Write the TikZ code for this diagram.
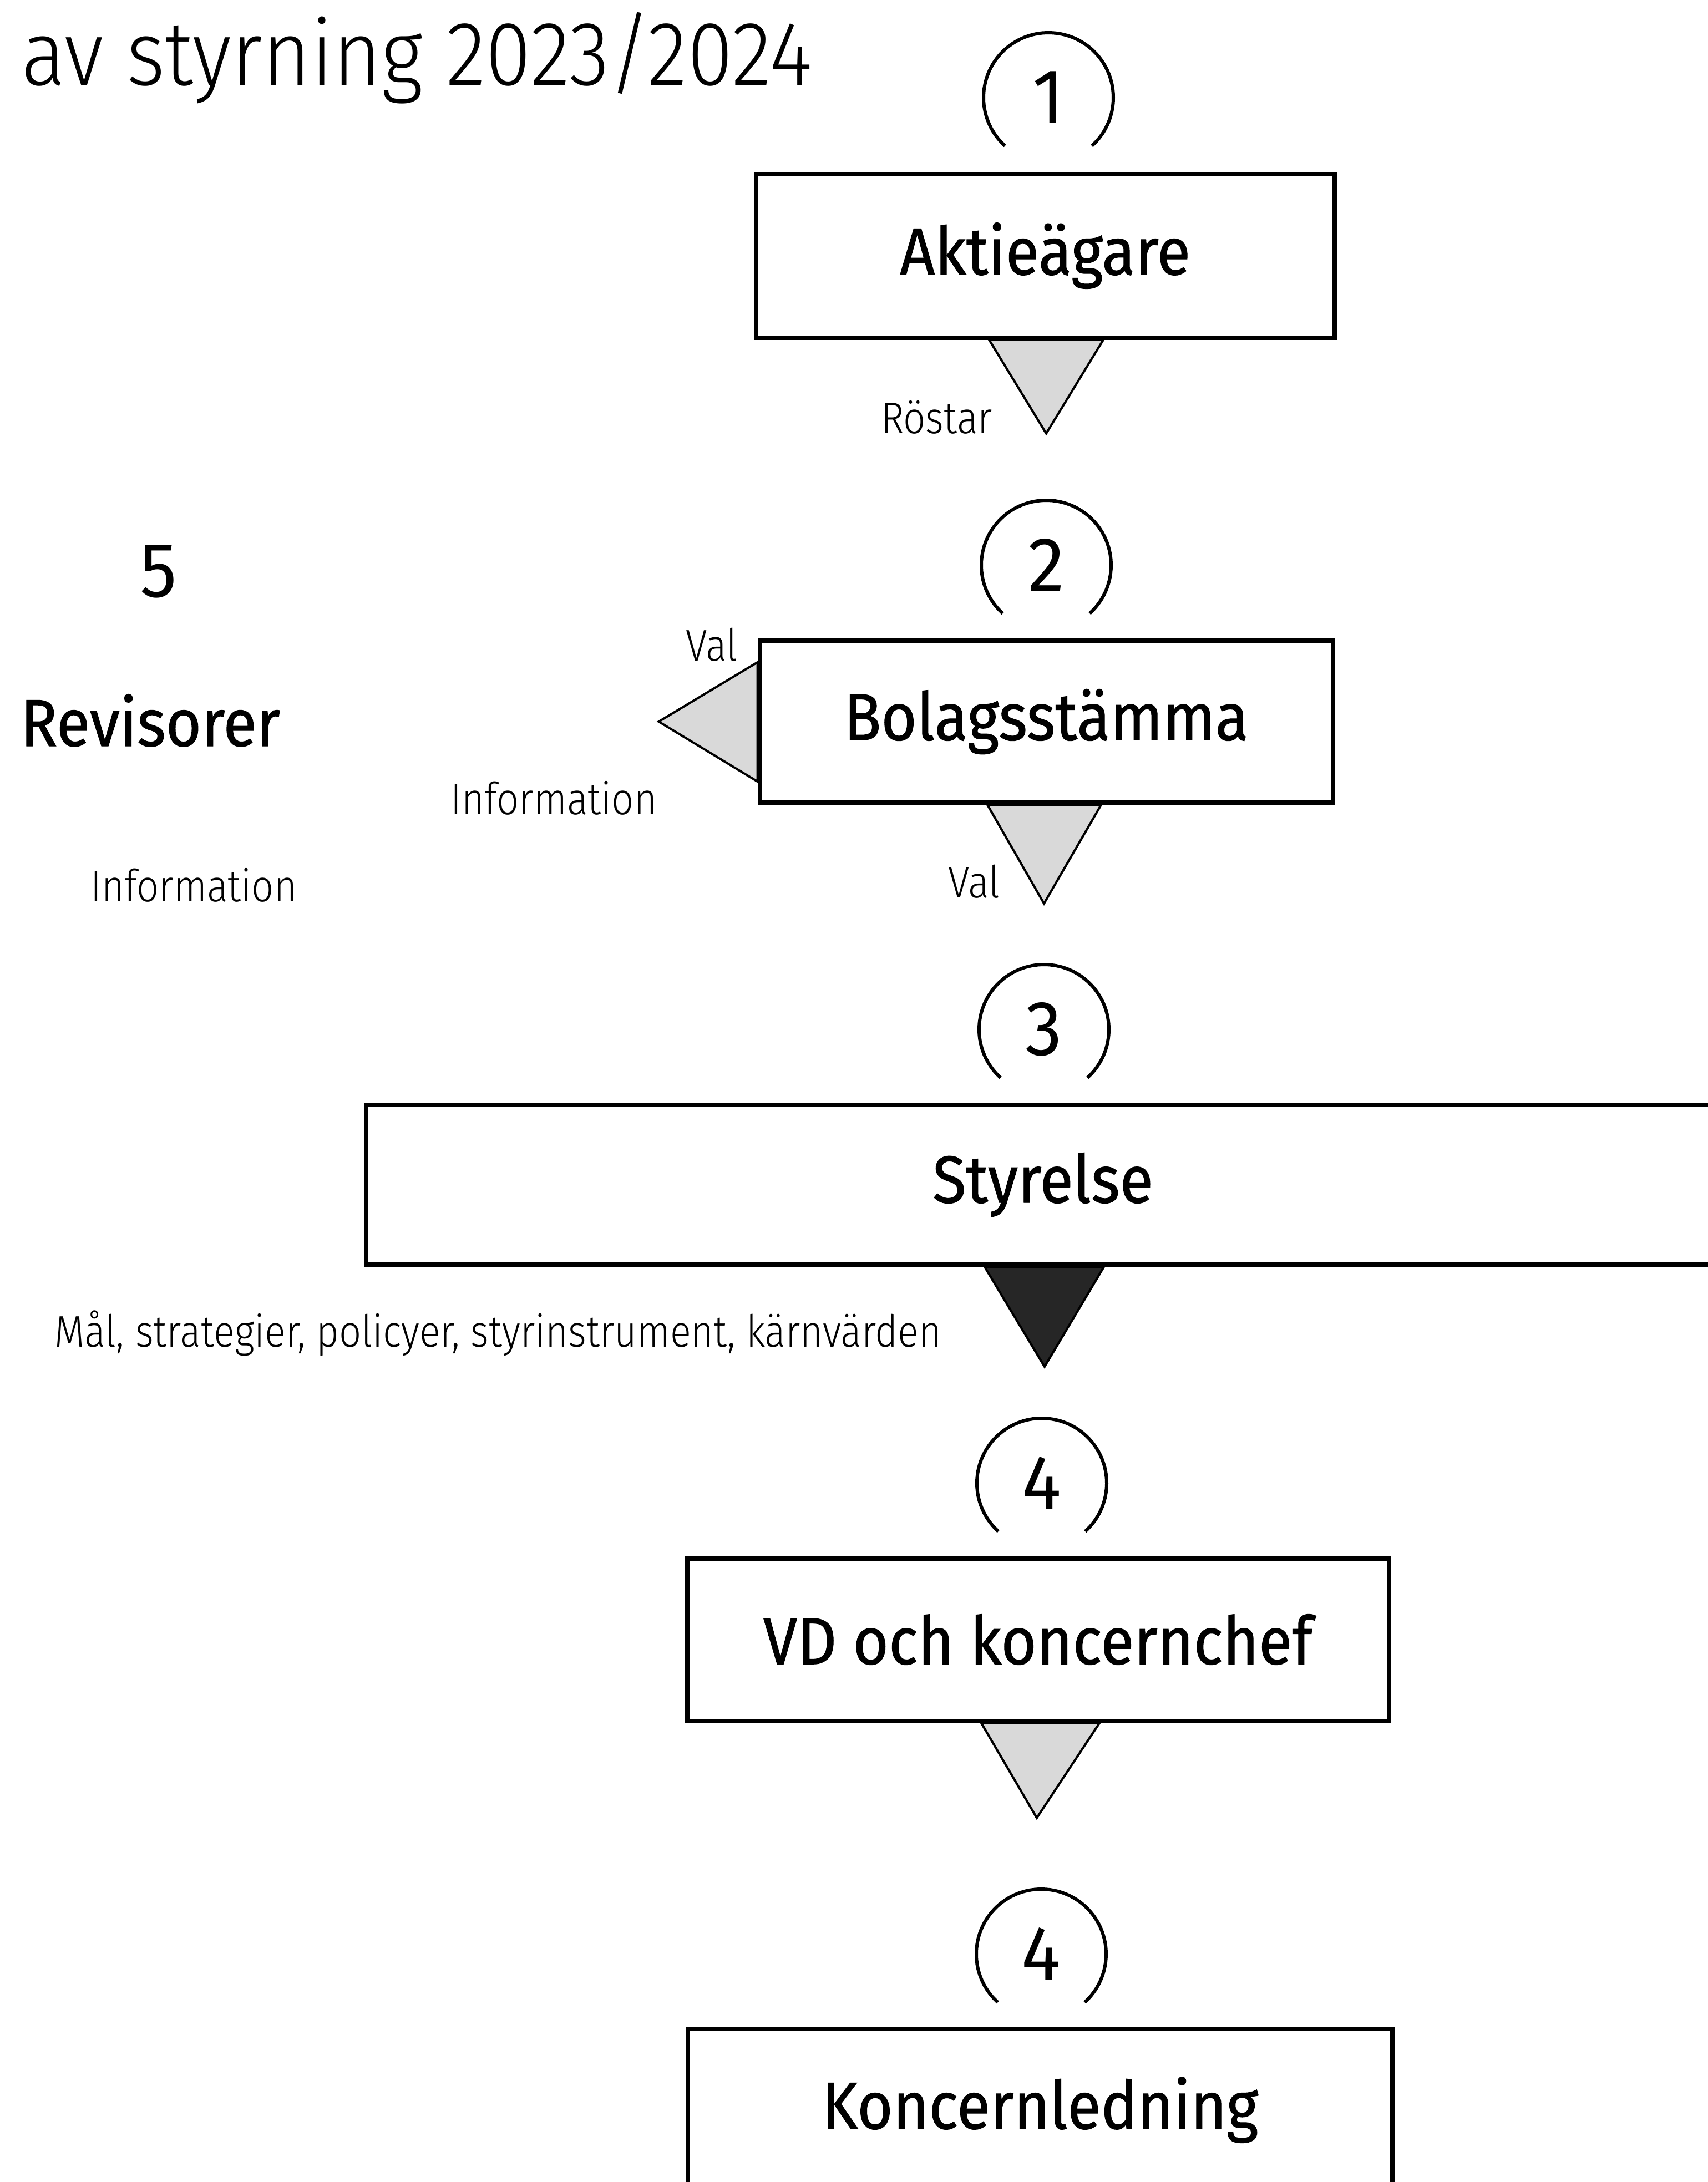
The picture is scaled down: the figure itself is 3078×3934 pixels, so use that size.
\documentclass[tikz,border=0pt]{standalone}
\usepackage{fontspec}
\setmainfont{Fira Sans}[FakeStretch=0.95]
\newfontfamily\lightfont{Fira Sans Light}[FakeStretch=0.88]
\newfontfamily\titlefont{Fira Sans Light}[FakeStretch=0.91]
\newfontfamily\medfont{Fira Sans}[FakeStretch=0.92,FakeBold=0.8]
\usetikzlibrary{calc}
\begin{document}
\begin{tikzpicture}[x=0.25pt,y=0.25pt,
  box/.style={draw,line width=2pt,rectangle,inner sep=0pt,font=\medfont\fontsize{30}{36}\selectfont},
  tri/.style={draw,line width=1pt,fill=gray!30,line join=miter},
  darktri/.style={draw,line width=1pt,fill=black!85,line join=miter},
  lbl/.style={inner sep=0pt,font=\lightfont\fontsize{20}{24}\selectfont},
  num/.style={inner sep=0pt,font=\fontsize{35}{40}\selectfont},
  ring/.style={line width=1.5pt}]
\useasboundingbox (0,0) rectangle (3078,-3934);
\fill[white] (0,0) rectangle (3078,-3934);

% title
\node[anchor=base west,inner sep=0pt,font=\titlefont\fontsize{41}{48}\selectfont] (title) at (38,-153) {av styrning 2023/2024};

% boxes
\node[box,minimum width=260.75pt,minimum height=73.75pt] (A) at (1884,-461) {Aktieägare};
\node[box,minimum width=258.25pt,minimum height=73pt] (B) at (1886,-1301) {Bolagsstämma};
\node[box,minimum width=610pt,minimum height=72pt] (S) at (1880,-2136) {Styrelse};
\node[box,minimum width=316.25pt,minimum height=73.25pt] (VD) at (1871,-2956) {VD och koncernchef};
\node[box,minimum width=317.5pt,minimum height=73.25pt] (K) at (1875,-3804) {Koncernledning};

% numbered circles
\node[num] (c1) at (1890,-176) {1};
\node[num] (c2) at (1886,-1019) {2};
\node[num] (c3) at (1882,-1856) {3};
\node[num] (c4a) at (1878,-2674) {4};
\node[num] (c4b) at (1877,-3523) {4};
\foreach \c in {c1,c2,c3,c4a,c4b}{
  \draw[ring] ($(\c)+(-48:117)$) arc[start angle=-48,end angle=228,radius=117];
}

% triangles
\draw[tri] ($(A.south)+(-101,0)$) -- ($(A.south)+(105,0)$) -- ($(A.south)+(2,-169)$) -- cycle;
\draw[tri] ($(B.west)+(0,107)$) -- ($(B.west)+(0,-108)$) -- ($(B.west)+(-178,0)$) -- cycle;
\draw[tri] ($(B.south)+(-106,0)$) -- ($(B.south)+(99,0)$) -- ($(B.south)+(-4,-178)$) -- cycle;
\draw[darktri] ($(S.south)+(-105,0)$) -- ($(S.south)+(110,0)$) -- ($(S.south)+(3,-180)$) -- cycle;
\draw[tri] ($(VD.south)+(-102,0)$) -- ($(VD.south)+(111,0)$) -- ($(VD.south)+(-2,-171)$) -- cycle;

% side texts
\node[anchor=base west,inner sep=0pt,font=\fontsize{35}{40}\selectfont] (n5) at (252,-1076) {5};
\node[anchor=base west,inner sep=0pt,font=\medfont\fontsize{30}{36}\selectfont] (rev) at (36,-1345) {Revisorer};

% labels
\node[lbl,anchor=base east] (rostar) at (1790,-781) {Röstar};
\node[lbl,anchor=base east] (val1) at (1330,-1191) {Val};
\node[lbl,anchor=base east] (info1) at (1185,-1468) {Information};
\node[lbl,anchor=base west] (info2) at (163,-1625) {Information};
\node[lbl,anchor=base east] (val2) at (1803,-1618) {Val};
\node[lbl,anchor=base east] (mal) at (1698,-2428) {Mål, strategier, policyer, styrinstrument, kärnvärden};
\end{tikzpicture}
\end{document}
